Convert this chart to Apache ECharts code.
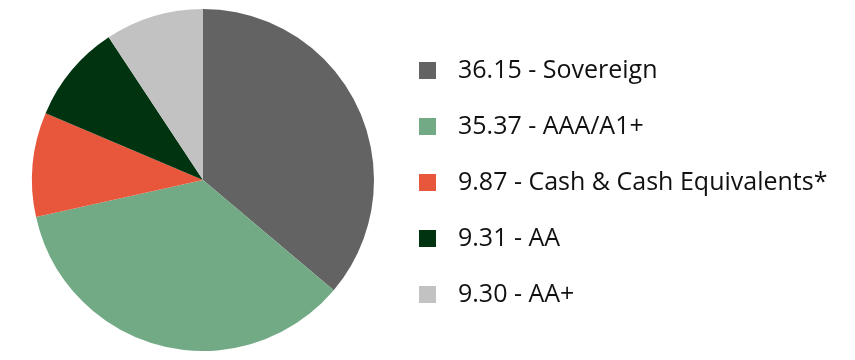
<!DOCTYPE html>
<html><head><meta charset="utf-8">
<script src="https://cdn.jsdelivr.net/npm/echarts@6/dist/echarts.min.js"></script>
<style>html,body{margin:0;padding:0;background:#fff}#c{width:855px;height:360px}</style>
</head><body><div id="c"></div>
<script>
const categories = ['Sovereign', 'AAA/A1+', 'Cash & Cash Equivalents*', 'AA', 'AA+'];
const values = [36.15, 35.37, 9.87, 9.31, 9.30];
const labels = ['36.15', '35.37', '9.87', '9.31', '9.30'];
const colors = ['#636363', '#72aa85', '#e8573c', '#003310', '#c2c2c2'];

const chart = echarts.init(document.getElementById('c'), null, {renderer: 'canvas'});
chart.setOption({
  animation: false,
  color: colors,
  legend: {
    orient: 'vertical',
    left: 419, top: 58,
    padding: 0,
    itemWidth: 17, itemHeight: 17, itemGap: 31,
    icon: 'rect',
    selectedMode: false,
    data: categories,
    formatter: function (name) {
      const i = categories.indexOf(name);
      return labels[i] + ' - ' + name;
    },
    textStyle: {fontFamily: 'Open Sans', fontSize: 25, lineHeight: 24, color: '#111', padding: [0, 0, 0, 17]}
  },
  series: [{
    type: 'pie',
    center: [203, 180],
    radius: [0, 171],
    startAngle: 90,
    clockwise: true,
    label: {show: false},
    labelLine: {show: false},
    emphasis: {disabled: true},
    itemStyle: {borderWidth: 0},
    data: categories.map((n, i) => ({name: n, value: values[i]}))
  }]
});
</script></body></html>
